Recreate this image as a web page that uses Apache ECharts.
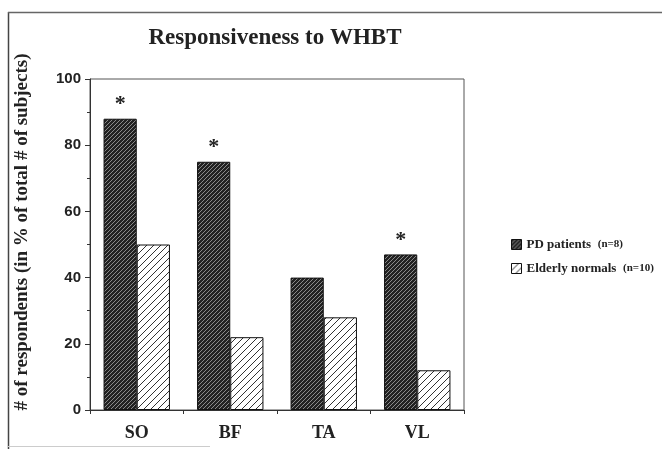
<!DOCTYPE html>
<html><head><meta charset="utf-8">
<script src="https://cdn.jsdelivr.net/npm/echarts@6/dist/echarts.min.js"></script>
<style>html,body{margin:0;padding:0;background:#fff}#c{width:662px;height:449px}</style>
</head><body><div id="c"></div>
<script>
var categories = ['SO', 'BF', 'TA', 'VL'];
var pdValues = [88, 75, 40, 47];
var elderlyValues = [50, 22, 28, 12];
var pdSignificant = [true, true, false, true];
var yTicks = [0, 20, 40, 60, 80, 100];
var yTitle = '# of respondents (in % of total # of subjects)';

function hatch(bg, fg, size, lw) {
  var c = document.createElement('canvas');
  c.width = size; c.height = size;
  var x = c.getContext('2d');
  x.fillStyle = bg; x.fillRect(0, 0, size, size);
  x.strokeStyle = fg; x.lineWidth = lw;
  x.beginPath();
  x.moveTo(-1, size + 1); x.lineTo(size + 1, -1);
  x.moveTo(-1, 1); x.lineTo(1, -1);
  x.moveTo(size - 1, size + 1); x.lineTo(size + 1, size - 1);
  x.stroke();
  return c;
}
var darkPat = { image: hatch('#222', '#8a8a8a', 4, 1), repeat: 'repeat' };
var lightPat = { image: hatch('#fff', '#333', 7, 1), repeat: 'repeat' };

var chart = echarts.init(document.getElementById('c'), null, { renderer: 'canvas' });
var serif = '"Liberation Serif", "Times New Roman", serif';
chart.setOption({
  animation: false,
  title: {
    text: 'Responsiveness to WHBT', left: 270, top: 22, textAlign: 'center',
    textStyle: { fontFamily: serif, fontSize: 23, fontWeight: 'bold', color: '#222' }
  },
  legend: {
    orient: 'vertical', left: 506, top: 233, itemWidth: 10, itemHeight: 10, itemGap: 11,
    icon: 'rect',
    data: [
      { name: 'PD patients', itemStyle: { color: darkPat, borderColor: '#111', borderWidth: 1 } },
      { name: 'Elderly normals', itemStyle: { color: lightPat, borderColor: '#111', borderWidth: 1 } }
    ],
    formatter: function (n) {
      return n === 'PD patients' ? '{a|PD patients}  {b|(n=8)}' : '{a|Elderly normals}  {b|(n=10)}';
    },
    textStyle: {
      rich: {
        a: { fontFamily: serif, fontSize: 13, fontWeight: 'bold', color: '#222' },
        b: { fontFamily: serif, fontSize: 11, fontWeight: 'bold', color: '#222' }
      }
    }
  },
  grid: { left: 90, right: 198, top: 79, bottom: 39, show: true, borderColor: '#555', borderWidth: 1, backgroundColor: 'transparent' },
  xAxis: {
    type: 'category', data: categories,
    axisLine: { lineStyle: { color: '#333', width: 1 } },
    axisTick: { show: true, length: 4, lineStyle: { color: '#333' } },
    axisLabel: { fontFamily: serif, fontSize: 18, fontWeight: 'bold', color: '#222', margin: 14 }
  },
  yAxis: {
    type: 'value', min: yTicks[0], max: yTicks[yTicks.length - 1], interval: 20,
    axisLine: { show: true, lineStyle: { color: '#333', width: 1 } },
    axisTick: { show: true, length: 5, lineStyle: { color: '#333' } },
    minorTick: { show: true, splitNumber: 2, length: 3, lineStyle: { color: '#333' } },
    splitLine: { show: false },
    axisLabel: { fontFamily: '"Liberation Sans", Arial, sans-serif', fontSize: 15, fontWeight: 'bold', color: '#222', margin: 9 }
  },
  series: [
    {
      name: 'PD patients', type: 'bar', barGap: '0%', barCategoryGap: '29%',
      itemStyle: { color: darkPat, borderColor: '#111', borderWidth: 1 },
      data: pdValues.map(function (v, i) {
        return { value: v, label: { show: pdSignificant[i] } };
      }),
      label: {
        position: 'top', distance: 3, formatter: '*',
        fontFamily: serif, fontSize: 22, fontWeight: 'bold', color: '#222'
      }
    },
    {
      name: 'Elderly normals', type: 'bar',
      itemStyle: { color: lightPat, borderColor: '#111', borderWidth: 1 },
      data: elderlyValues
    }
  ],
  graphic: [
    { type: 'text', x: 22, y: 232, rotation: Math.PI / 2,
      style: { text: yTitle, fontFamily: serif, fontSize: 19, fontWeight: 'bold', fill: '#222',
               textAlign: 'center', textVerticalAlign: 'middle' } },
    { type: 'line', shape: { x1: 8.5, y1: 12, x2: 8.5, y2: 449 }, style: { stroke: '#444', lineWidth: 1.5 } },
    { type: 'line', shape: { x1: 8, y1: 12.5, x2: 662, y2: 12.5 }, style: { stroke: '#666', lineWidth: 1.5 } },
    { type: 'line', shape: { x1: 8, y1: 446.5, x2: 210, y2: 446.5 }, style: { stroke: '#ccc', lineWidth: 1 } }
  ]
});
</script></body></html>
